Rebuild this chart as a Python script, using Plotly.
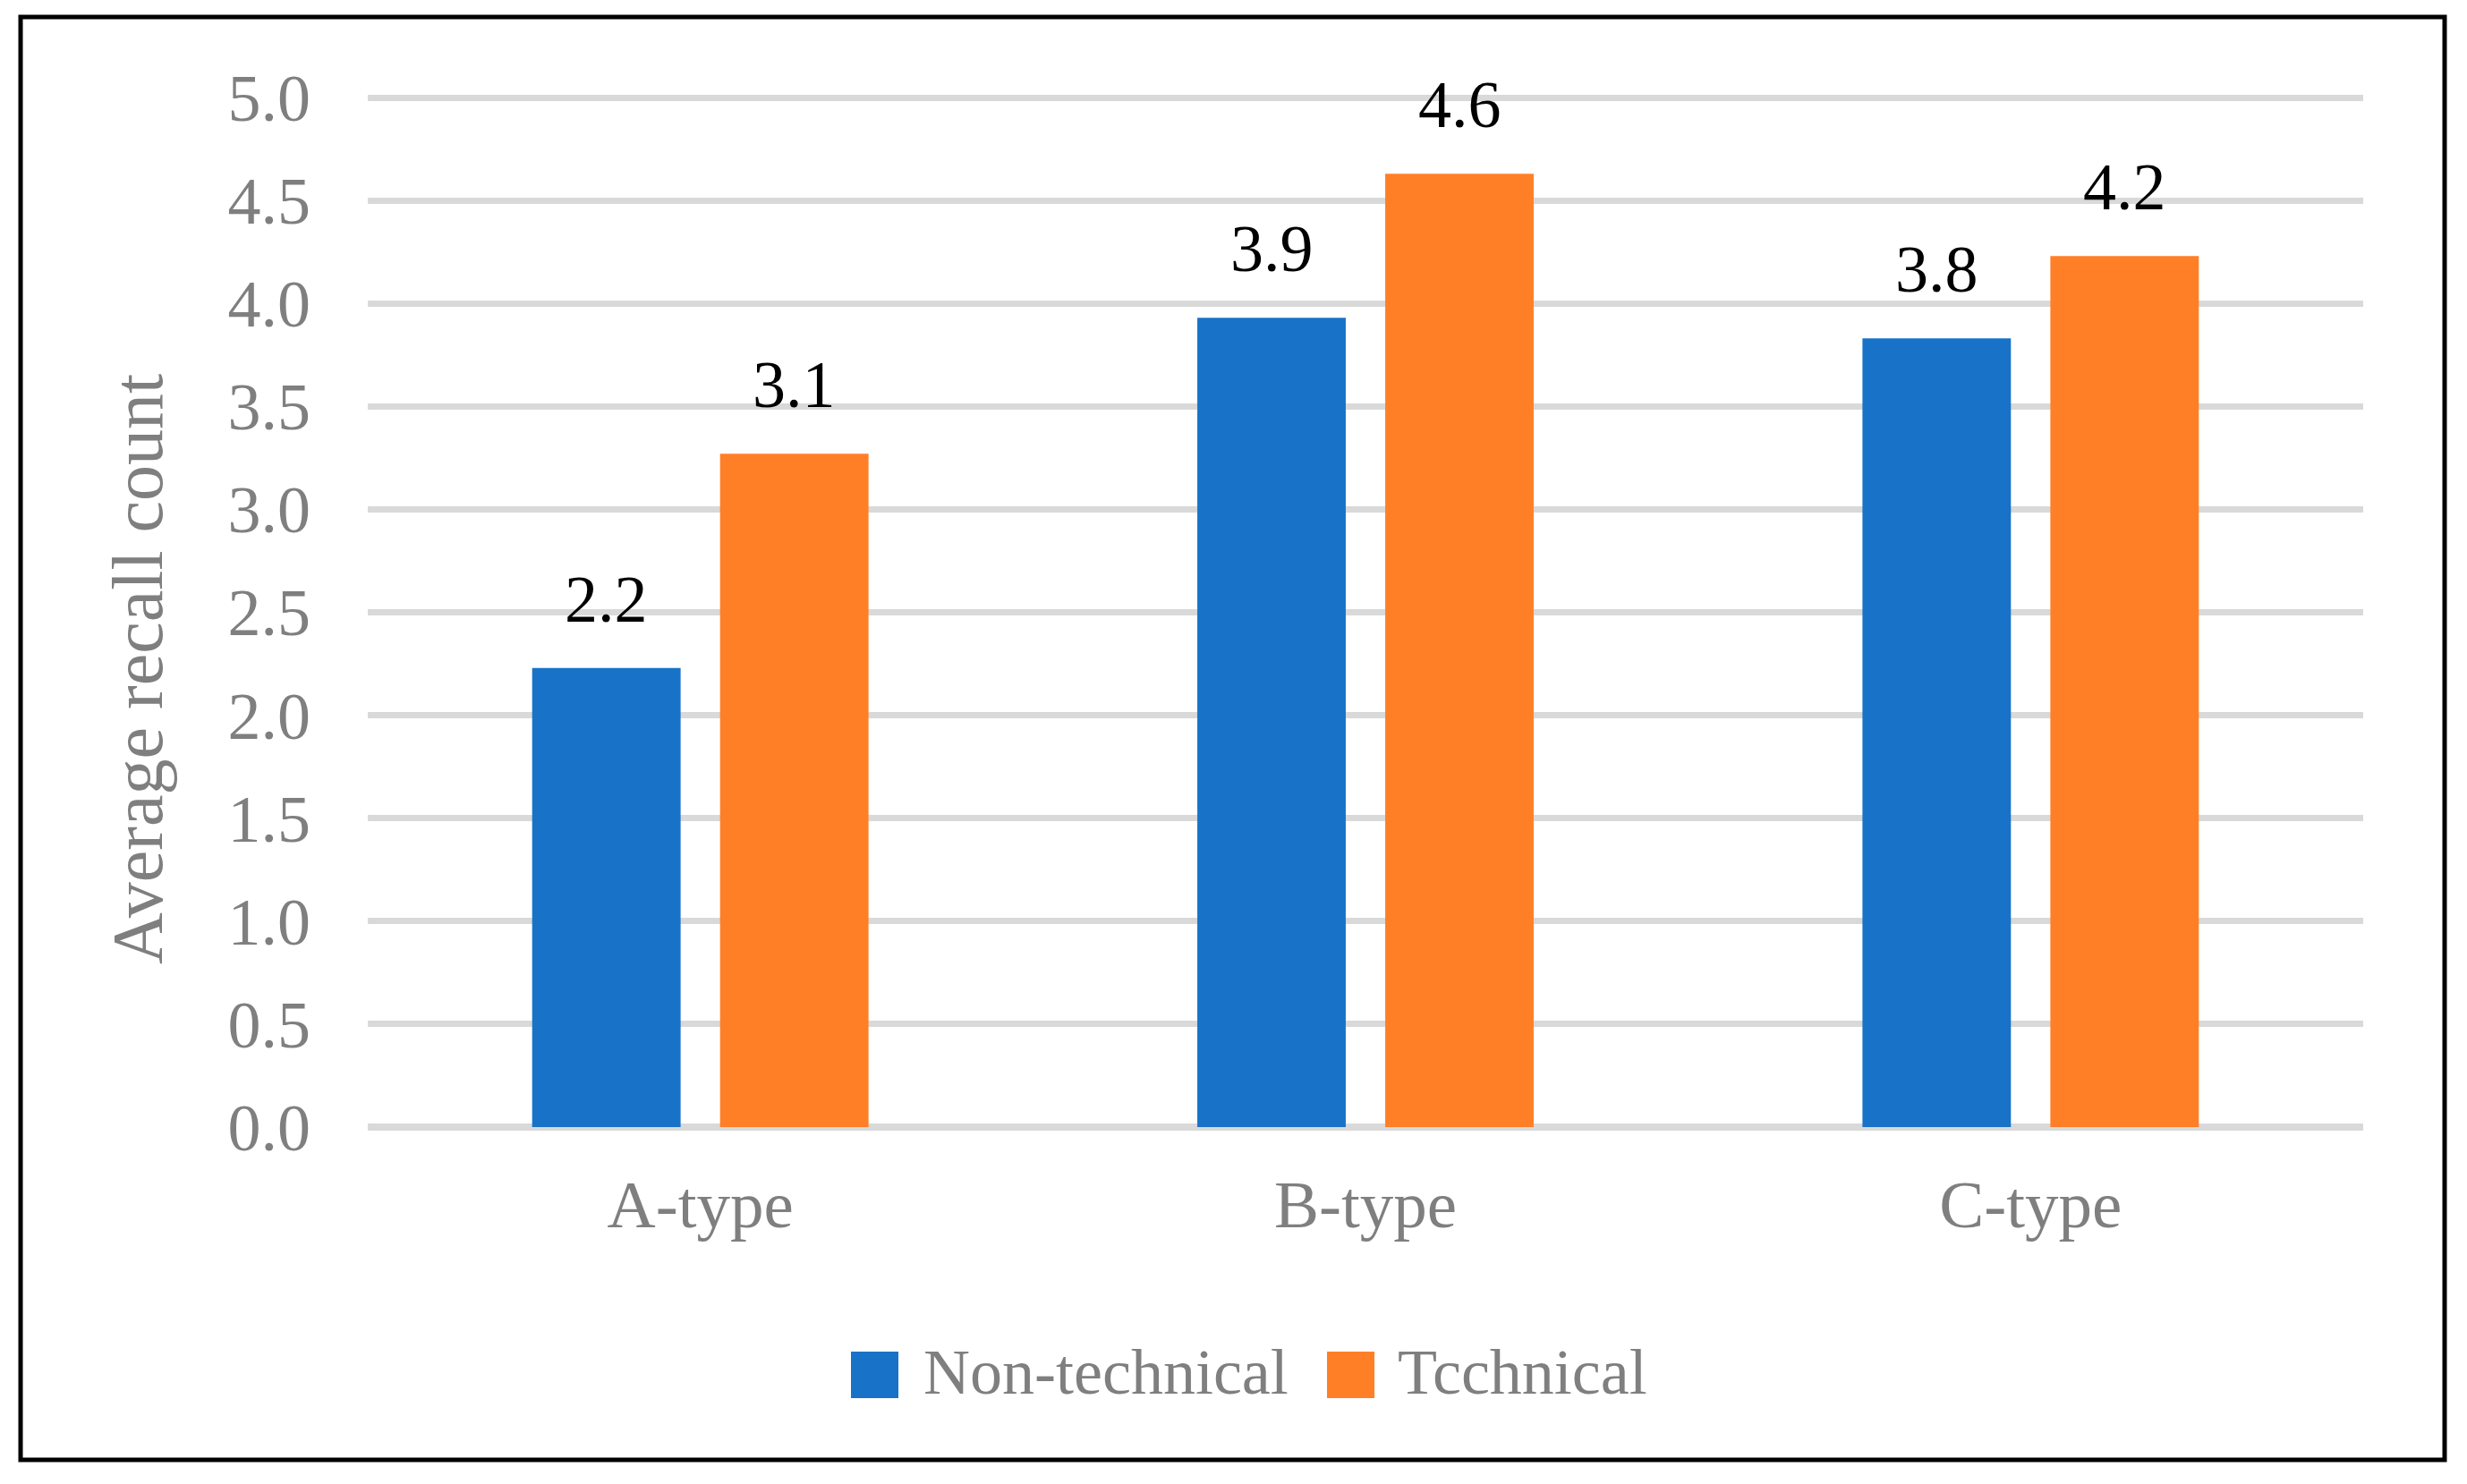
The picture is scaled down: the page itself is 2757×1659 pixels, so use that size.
import plotly.graph_objects as go

# --- data -----------------------------------------------------------------
categories = ["A-type", "B-type", "C-type"]
series_names = ["Non-technical", "Tcchnical"]
non_technical = [2.23, 3.93, 3.83]
technical = [3.27, 4.63, 4.23]
# value labels as printed above the bars
non_technical_labels = ["2.2", "3.9", "3.8"]
technical_labels = ["3.1", "4.6", "4.2"]
y_ticks = [0.0, 0.5, 1.0, 1.5, 2.0, 2.5, 3.0, 3.5, 4.0, 4.5, 5.0]

BLUE, ORANGE = "#1873C8", "#FF7F27"
GREY_TXT, GRID = "#7F7F7F", "#D9D9D9"
FONT = "Liberation Serif, Times New Roman, serif"

# page is 2757x1659 but the body has an 8px margin, so the figure is a bit smaller
OFF = 8
W, H = 2757 - 2 * OFF, 1659 - 2 * OFF
# plot area in page pixels (5.0 gridline at 109, zero line at 1260)
X0, X1, Y_TOP, Y0 = 411, 2641, 105, 1260
PX_PER_UNIT = (Y0 - 109) / 5.0
Y_MAX = 5.0 + (109 - Y_TOP) / PX_PER_UNIT   # tiny headroom so the 5.0 gridline is drawn
PW, PH = X1 - X0, Y0 - Y_TOP
BARGAP, GROUPGAP = 0.435, 0.21

def px(x):  # page pixel -> paper x
    return (x - X0) / PW

def py(y):  # page pixel -> paper y
    return (Y0 - y) / PH

fig = go.Figure()
for name, vals, col in [(series_names[0], non_technical, BLUE),
                        (series_names[1], technical, ORANGE)]:
    fig.add_trace(go.Bar(x=categories, y=vals, name=name,
                         marker=dict(color=col, line=dict(width=0)),
                         hoverinfo="x+y"))

# value labels centred over each bar (offset = quarter of the group width)
off = (1 - BARGAP) / 4
annos = []
for labels, vals, sgn in [(non_technical_labels, non_technical, -1),
                          (technical_labels, technical, 1)]:
    for i, (lab, v) in enumerate(zip(labels, vals)):
        annos.append(dict(x=i + sgn * off, y=v, xref="x", yref="y", text=lab,
                          showarrow=False, yanchor="bottom", yshift=34,
                          font=dict(family=FONT, size=74, color="black")))

# y axis title (sits a little below the plot centre in the original)
annos.append(dict(x=px(154), y=py(748), xref="paper", yref="paper",
                  text="Average recall count", textangle=-90, showarrow=False,
                  xanchor="center", yanchor="middle",
                  font=dict(family=FONT, size=80, color=GREY_TXT)))

# hand-built legend: big square swatches like the original
shapes = []
for name, col, sx, tx in [(series_names[0], BLUE, 951, 1030),
                          (series_names[1], ORANGE, 1483, 1560)]:
    shapes.append(dict(type="rect", xref="paper", yref="paper",
                       x0=px(sx), x1=px(sx + 53), y0=py(1563), y1=py(1511),
                       fillcolor=col, line=dict(width=0)))
    annos.append(dict(x=px(tx), y=py(1534), xref="paper", yref="paper",
                      text=name, showarrow=False, xanchor="left", yanchor="middle",
                      font=dict(family=FONT, size=72, color=GREY_TXT)))

# outer frame
shapes.append(dict(type="rect", xref="paper", yref="paper",
                   x0=px(23), x1=px(2732), y0=py(1632), y1=py(19),
                   line=dict(color="black", width=5), layer="above"))

fig.update_layout(
    width=W, height=H,
    margin=dict(l=X0 - OFF, r=OFF + W - X1, t=Y_TOP - OFF, b=OFF + H - Y0),
    barmode="group", bargap=BARGAP, bargroupgap=GROUPGAP,
    plot_bgcolor="white", paper_bgcolor="white",
    showlegend=False, annotations=annos, shapes=shapes,
    xaxis=dict(tickfont=dict(family=FONT, size=75, color=GREY_TXT),
               showgrid=False, showline=False, ticks="", ticklabelstandoff=36),
    yaxis=dict(range=[0, Y_MAX], tickvals=y_ticks, tickformat=".1f",
               tickfont=dict(family=FONT, size=74, color=GREY_TXT),
               showgrid=True, gridcolor=GRID, gridwidth=7,
               zeroline=True, zerolinecolor=GRID, zerolinewidth=8,
               showline=False, ticks="", ticklabelstandoff=63),
)

fig.write_html("out.html")
